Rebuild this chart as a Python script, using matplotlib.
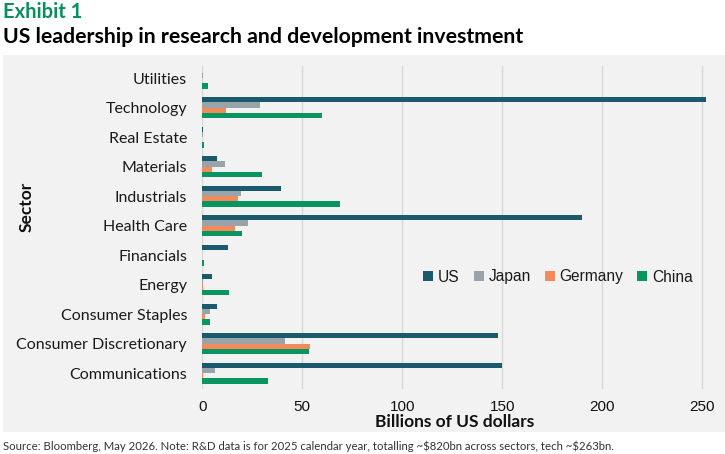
import numpy as np
import matplotlib.pyplot as plt
from matplotlib.patches import Rectangle

# sectors listed top to bottom as shown
sectors = ['Utilities', 'Technology', 'Real Estate', 'Materials', 'Industrials',
           'Health Care', 'Financials', 'Energy', 'Consumer Staples',
           'Consumer Discretionary', 'Communications']
us = [0, 263, 0.5, 7.2, 39.3, 190, 12.7, 4.8, 7.2, 148, 150]
japan = [0.3, 28.7, 0.2, 11.2, 19.5, 22.7, 0, 0.3, 3.8, 41.3, 6.5]
germany = [0, 11.7, 0, 4.7, 17.8, 16.2, 0, 0.3, 1.2, 53.8, 0.3]
china = [3.0, 60, 0.8, 29.7, 69, 19.8, 1.0, 13.3, 3.8, 53.5, 32.8]

series_names = ['US', 'Japan', 'Germany', 'China']
colors = ['#1b5a6d', '#99a3aa', '#f28a5c', '#08955f']
ticks = [0, 50, 100, 150, 200, 250]

BG = '#f2f2f2'
LABEL_FONT = ['Lato', 'DejaVu Sans']

fig = plt.figure(figsize=(7.25, 4.54), dpi=100)
fig.patch.set_facecolor('white')
fig.patches.append(Rectangle((3 / 725, 22 / 454), 1, 377 / 454,
                             transform=fig.transFigure, facecolor=BG,
                             edgecolor='none', zorder=-10))

ax = fig.add_axes([202.3 / 725, 1 - 389 / 454, 504 / 725, 323 / 454])
ax.set_facecolor(BG)

n = len(sectors)
y = np.arange(n)[::-1]
h = 0.177
for i, (name, vals, c) in enumerate(zip(series_names, [us, japan, germany, china], colors)):
    off = (1.5 - i) * h
    ax.barh(y + off, vals, height=h, color=c, label=name, zorder=3)

ax.set_xlim(0, 252)
ax.set_ylim(-0.54, n - 1 + 0.41)
ax.set_xticks(ticks)
ax.set_xticklabels([str(t) for t in ticks], family=['Liberation Sans'], fontsize=11, color='#111111')
ax.set_yticks(y)
ax.set_yticklabels(sectors, family=LABEL_FONT, fontsize=11.5, color='#1a1a1a')
ax.tick_params(length=0)
ax.tick_params(axis='x', pad=8)
ax.tick_params(axis='y', pad=11)
ax.grid(axis='x', color='#d8d8d8', linewidth=1, zorder=0)
for s in ax.spines.values():
    s.set_visible(False)

ax.set_xlabel('Billions of US dollars', family=LABEL_FONT, fontweight='bold',
              fontsize=12.5, labelpad=0, color='#111111')
fig.text(27 / 725, 1 - 207 / 454, 'Sector', rotation=90, ha='center', va='center',
         family=LABEL_FONT, fontweight='bold', fontsize=12.5, color='#111111')

leg = ax.legend(loc='center', bbox_to_anchor=(558 / 725, 1 - 277 / 454),
                bbox_transform=fig.transFigure, ncol=4, frameon=False,
                handlelength=0.65, handleheight=0.65, handletextpad=0.3,
                columnspacing=0.9, prop={'family': 'Liberation Sans', 'size': 11.2})
for t in leg.get_texts():
    t.set_color('#1a1a1a')

fig.text(3 / 725, 1 - 12 / 454, 'Exhibit 1', ha='left', va='center',
         family=LABEL_FONT, fontweight='bold', fontsize=14.5, color='#0a8f5c')
fig.text(3 / 725, 1 - 37 / 454, 'US leadership in research and development investment',
         ha='left', va='center', family=LABEL_FONT, fontweight='bold',
         fontsize=15.3, color='#000000')
fig.text(3 / 725, 1 - 446 / 454,
         'Source: Bloomberg, May 2026. Note: R&D data is for 2025 calendar year, '
         'totalling ~\\$820bn across sectors, tech ~\\$263bn.',
         ha='left', va='center', family=LABEL_FONT,
         fontsize=8.2, color='#333333')

fig.savefig('out.png', dpi=100)
